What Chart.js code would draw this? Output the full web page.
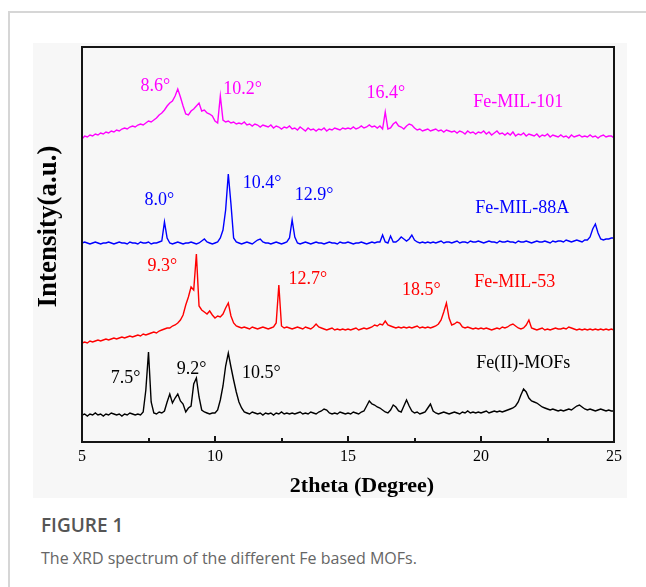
<!DOCTYPE html>
<html>
<head>
<meta charset="utf-8">
<script src="https://cdn.jsdelivr.net/npm/chart.js@4.4.1/dist/chart.umd.min.js"></script>
<style>
  body { margin: 0; width: 646px; height: 587px; background: #fff; overflow: hidden; position: relative; }
  #frame { position: absolute; left: 8px; top: 11px; width: 700px; height: 700px; border-top: 2px solid #d6d6d6; border-left: 2px solid #d6d6d6; }
  #panel { position: absolute; left: 33px; top: 43px; width: 594px; height: 455px; background: #f7f7f7; }
  #plotBox { position: absolute; box-sizing: border-box; border: 2px solid #151515; pointer-events: none; }
  #caption { position: absolute; left: 41px; top: 513px; font-family: "Open Sans", sans-serif; }
  .fig { font-size: 19px; font-weight: 600; color: #555; line-height: 24px; }
  .desc { font-size: 16px; color: #666; line-height: 24px; margin-top: 9px; }
</style>
</head>
<body>
<div id="frame"></div>
<div id="panel"><canvas id="xrd" width="594" height="455"></canvas><div id="plotBox"></div></div>
<div id="caption">
  <div class="fig">FIGURE 1</div>
  <div class="desc">The XRD spectrum of the different Fe based MOFs.</div>
</div>
<script>
// 2theta sampling: 5.0 .. 25.0 every 0.1 degree
const thetaStart = 5, thetaStep = 0.1, thetaCount = 201;

const seriesNames = ['Fe-MIL-101', 'Fe-MIL-88A', 'Fe-MIL-53', 'Fe(II)-MOFs'];

// intensities (stacked, arbitrary units), one row per degree
const feMil101 = [
  303,306,305,307,306,308,307,309,308,310,
  309,311,310,312,311,313,314,313,315,316,
  315,317,318,317,319,321,320,322,324,327,
  329,332,336,339,341,346,353,345,336,328,
  327,331,333,336,339,331,332,329,328,326,
  321,319,346,322,320,321,319,320,318,319,
  318,320,317,318,316,318,317,315,317,316,
  315,317,314,316,315,313,315,314,316,313,
  314,312,315,313,311,314,312,313,311,313,
  312,314,311,313,312,314,313,312,314,313,
  314,313,315,313,314,316,314,315,317,315,
  316,314,316,313,330,313,314,318,320,316,
  315,313,316,318,317,314,312,313,311,312,
  313,311,312,313,311,312,310,312,311,310,
  311,309,311,310,308,311,309,310,308,310,
  309,311,308,310,307,309,311,308,309,307,
  309,307,310,306,308,307,309,306,308,307,
  306,308,305,307,306,308,305,307,306,305,
  307,305,306,304,307,305,306,307,305,306,
  305,307,305,306,304,306,307,305,306,306,
  304];

const feMil88A = [
  199,200,199,198,199,200,199,198,199,199,
  200,199,198,199,200,199,199,198,200,199,
  199,198,200,199,199,200,198,199,199,200,
  201,220,204,199,198,199,200,199,198,199,
  199,200,199,198,199,201,203,200,199,198,
  199,200,204,212,232,268,238,204,200,199,
  198,199,200,199,198,200,202,203,200,199,
  199,198,199,200,199,198,199,200,204,222,
  205,199,198,199,200,199,198,199,200,199,
  199,198,199,200,199,199,198,200,199,199,
  200,199,198,199,199,200,199,198,199,200,
  199,200,200,207,200,199,206,200,200,202,
  205,203,201,203,207,202,200,199,200,199,
  200,199,200,199,200,201,199,200,200,199,
  200,201,199,200,200,199,201,200,200,201,
  200,199,200,201,200,200,199,201,200,200,
  201,200,200,199,201,200,200,201,200,199,
  200,201,200,200,201,200,199,201,200,201,
  201,200,202,201,200,201,202,201,200,202,
  202,205,213,218,209,203,202,203,203,204,
  204];

const feMil53 = [
  99,100,99,101,100,101,102,101,102,103,
  102,103,104,103,104,105,104,105,106,105,
  106,107,106,108,107,108,109,110,109,111,
  112,113,114,114,116,117,119,122,127,137,
  145,155,152,188,136,132,130,128,131,127,
  124,126,125,128,134,139,126,119,116,115,
  114,115,114,113,115,114,113,114,115,114,
  113,114,115,119,157,116,114,115,114,113,
  114,115,114,113,115,114,113,115,118,115,
  114,113,112,113,114,112,113,112,113,112,
  113,112,113,114,112,113,114,113,114,115,
  117,116,118,117,121,117,116,115,114,115,
  114,115,114,115,114,115,116,114,115,114,
  115,114,115,116,118,122,130,139,124,117,
  118,120,119,115,114,115,114,113,114,113,
  114,113,114,113,112,113,114,113,115,114,
  115,117,118,116,114,113,114,117,122,114,
  113,112,113,114,112,113,112,113,114,113,
  113,114,113,115,114,113,112,113,112,113,
  112,113,112,113,112,113,112,113,112,113,
  112];

const feIIMofs = [
  27,28,26,28,27,29,27,28,26,28,
  27,29,28,27,28,26,28,27,29,28,
  27,28,27,30,52,90,40,29,28,30,
  29,31,40,48,39,44,48,41,38,30,
  34,36,58,64,45,32,30,29,28,29,
  29,32,42,56,76,89,75,62,50,40,
  34,30,29,28,30,29,28,29,27,29,
  28,29,27,29,28,30,28,29,28,29,
  28,29,30,28,29,28,30,29,28,30,
  31,33,32,29,28,29,28,30,29,28,
  29,28,30,29,28,30,31,36,41,38,
  37,35,34,32,30,29,32,37,35,31,
  30,36,42,36,31,29,30,28,29,30,
  34,38,31,29,28,29,30,29,28,29,
  30,29,28,30,29,31,29,30,29,30,
  29,30,31,29,30,31,30,31,30,31,
  32,33,34,36,40,47,53,50,44,41,
  40,39,37,35,34,33,32,33,32,31,
  32,31,32,33,32,34,36,37,35,33,
  32,33,32,31,32,33,32,31,32,31,
  31];

// peak labels: series index, text, 2theta, intensity
const peakNotes = [
  [0, '8.6°', 7.76, 356], [0, '10.2°', 11.04, 353], [0, '16.4°', 16.42, 349], [0, 'Fe-MIL-101', 21.4, 340],
  [1, '8.0°', 7.91, 242], [1, '10.4°', 11.77, 259], [1, '12.9°', 13.73, 247], [1, 'Fe-MIL-88A', 21.55, 234],
  [2, '9.3°', 8.02, 176], [2, '12.7°', 13.49, 163], [2, '18.5°', 17.76, 152], [2, 'Fe-MIL-53', 21.27, 160],
  [3, '7.5°', 6.64, 64], [3, '9.2°', 9.12, 73], [3, '10.5°', 11.74, 69], [3, 'Fe(II)-MOFs', 21.59, 79]
];

const colors = ['#ff00ff', '#0000ff', '#ff0000', '#000000'];
const serif = 'Liberation Serif';
const axisColor = '#151515';

function toPoints(vals) {
  let pts = [];
  for (let i = 0; i < thetaCount; i++) {
    pts.push({ x: +(thetaStart + i * thetaStep).toFixed(1), y: vals[i] });
  }
  return pts;
}

const allSeries = [feMil101, feMil88A, feMil53, feIIMofs];
const datasets = allSeries.map((vals, i) => ({
  label: seriesNames[i],
  data: toPoints(vals),
  borderColor: colors[i],
  borderWidth: 1.4,
  pointRadius: 0,
  tension: 0,
  fill: false
}));

// inward tick marks on the bottom axis (minor ones halfway)
const inwardTicks = {
  id: 'inwardTicks',
  afterDatasetsDraw(chart) {
    const { ctx, chartArea: a, scales: { x } } = chart;
    ctx.save();
    ctx.strokeStyle = axisColor;
    ctx.lineWidth = 2;
    ctx.beginPath();
    x.ticks.forEach((tk, i) => {
      let px = Math.round(x.getPixelForValue(tk.value));
      ctx.moveTo(px, a.bottom);
      ctx.lineTo(px, a.bottom - 6);
      if (i < x.ticks.length - 1) {
        let mid = Math.round(x.getPixelForValue((tk.value + x.ticks[i + 1].value) / 2));
        ctx.moveTo(mid, a.bottom);
        ctx.lineTo(mid, a.bottom - 4);
      }
    });
    ctx.stroke();
    ctx.restore();
  }
};

// peak labels and axis titles
const notesAndTitles = {
  id: 'notesAndTitles',
  afterDraw(chart) {
    const { ctx, chartArea: a, scales: { x, y } } = chart;
    ctx.save();
    ctx.font = '18px "' + serif + '"';
    ctx.textAlign = 'center';
    ctx.textBaseline = 'middle';
    peakNotes.forEach(n => {
      ctx.fillStyle = colors[n[0]];
      ctx.fillText(n[1], x.getPixelForValue(n[2]), y.getPixelForValue(n[3]));
    });
    ctx.fillStyle = '#000';
    ctx.font = 'bold 22px "' + serif + '"';
    ctx.fillText('2theta (Degree)', (a.left + a.right) / 2 + 14, a.bottom + 44);
    ctx.translate(a.left - 33, (a.top + a.bottom) / 2 - 18);
    ctx.rotate(-Math.PI / 2);
    ctx.font = 'bold 27px "' + serif + '"';
    ctx.fillText('Intensity(a.u.)', 0, 0);
    ctx.restore();
  }
};

let chart = new Chart(document.getElementById('xrd'), {
  type: 'line',
  data: { datasets: datasets },
  options: {
    responsive: false,
    animation: false,
    layout: { padding: { left: 0, top: 4, right: 9, bottom: 0 } },
    plugins: { legend: { display: false }, tooltip: { enabled: false } },
    scales: {
      x: {
        type: 'linear', position: 'bottom', min: 5, max: 25,
        ticks: { stepSize: 5, padding: 5, maxRotation: 0, color: '#000', font: { family: serif, size: 16 } },
        grid: { display: false, drawTicks: false },
        border: { display: true, color: axisColor, width: 2 },
        afterFit(s) { s.height = 56; }
      },
      y: {
        position: 'left', min: 0, max: 395,
        ticks: { display: false },
        grid: { display: false, drawTicks: false },
        border: { display: true, color: axisColor, width: 2 },
        afterFit(s) { s.width = 49; }
      }
    }
  },
  plugins: [inwardTicks, notesAndTitles]
});

// frame around the plot area, taken from the chart's own area
let area = chart.chartArea;
let box = document.getElementById('plotBox');
box.style.left = Math.round(area.left - 1) + 'px';
box.style.top = Math.round(area.top - 1) + 'px';
box.style.width = Math.round(area.right - area.left + 2) + 'px';
box.style.height = Math.round(area.bottom - area.top + 2) + 'px';
</script>
</body>
</html>
